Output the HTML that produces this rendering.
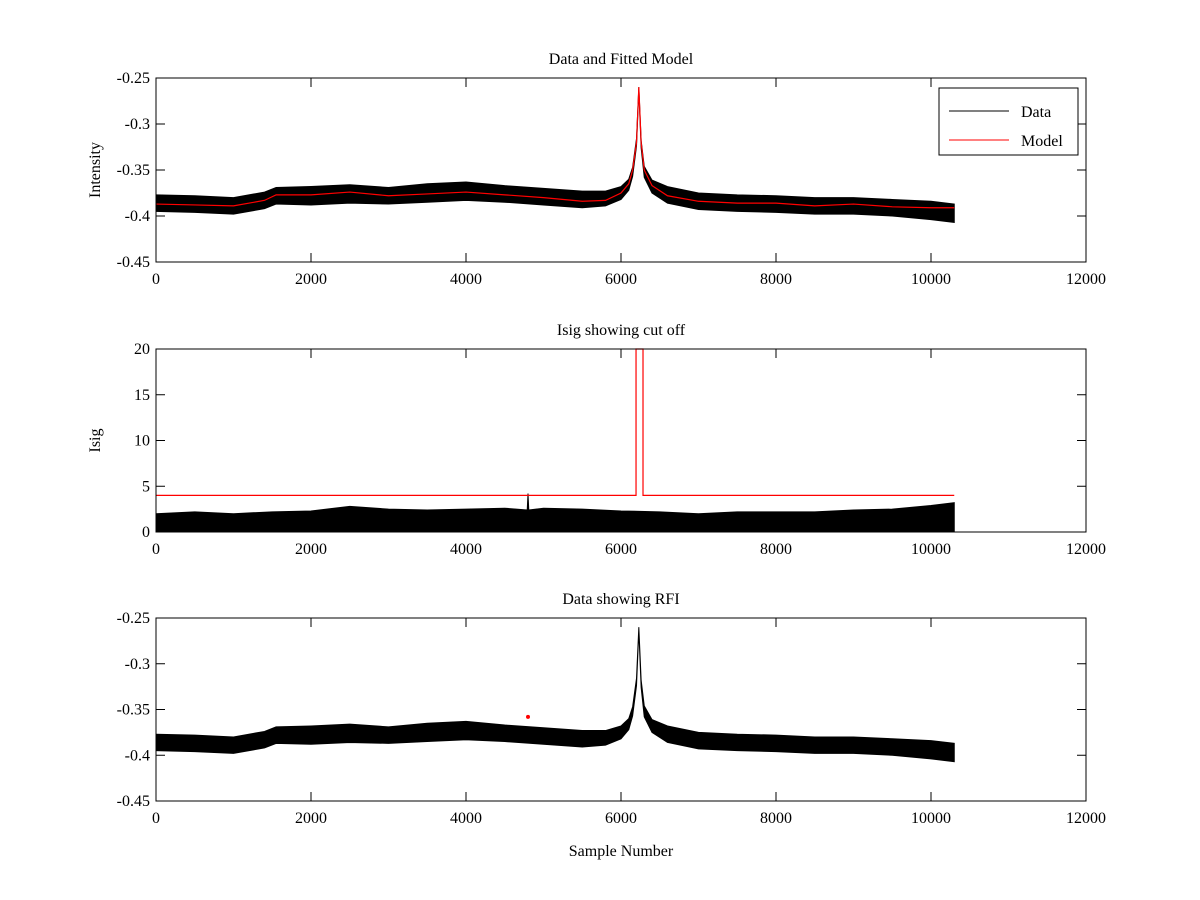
<!DOCTYPE html>
<html><head><meta charset="utf-8"><style>
body{margin:0;background:#fff}
svg{display:block;font-family:"Liberation Serif",serif}
</style></head><body>
<svg id="fig" width="1200" height="900" viewBox="0 0 1200 900"></svg>
<script>
// ---- data ----
const sampleX   = [0,500,1000,1400,1550,2000,2500,3000,3500,4000,4500,5000,5500,5800,6000,6100,6150,6200,6230,6260,6300,6400,6600,7000,7500,8000,8500,9000,9500,10000,10300];
const modelY    = [-0.387,-0.388,-0.389,-0.383,-0.377,-0.377,-0.374,-0.378,-0.376,-0.374,-0.377,-0.380,-0.384,-0.383,-0.375,-0.365,-0.35,-0.32,-0.26,-0.32,-0.35,-0.367,-0.378,-0.384,-0.386,-0.386,-0.389,-0.387,-0.390,-0.391,-0.391];
const dataMid   = [-0.386,-0.387,-0.389,-0.383,-0.378,-0.378,-0.376,-0.378,-0.375,-0.373,-0.376,-0.379,-0.382,-0.381,-0.375,-0.366,-0.352,-0.32,-0.262,-0.322,-0.352,-0.368,-0.377,-0.384,-0.386,-0.387,-0.389,-0.389,-0.391,-0.394,-0.397];
const dataHalf  = [0.009,0.009,0.009,0.009,0.009,0.010,0.010,0.009,0.010,0.010,0.009,0.009,0.009,0.008,0.007,0.006,0.005,0.004,0.002,0.004,0.006,0.007,0.009,0.009,0.009,0.009,0.009,0.009,0.009,0.010,0.010];
const isigX     = [0,500,1000,1500,2000,2500,3000,3500,4000,4500,4790,4800,4810,5000,5500,6000,6500,7000,7500,8000,8500,9000,9500,10000,10300];
const isigUpper = [2.0,2.2,2.0,2.2,2.3,2.8,2.5,2.4,2.5,2.6,2.4,4.2,2.4,2.6,2.5,2.3,2.2,2.0,2.2,2.2,2.2,2.4,2.5,2.9,3.2];
const cutX      = [0,6194,6194,6284,6284,10300];
const cutY      = [4,4,20,20,4,4];
const rfiX      = [4800];
const rfiY      = [-0.358];
const xTicks    = [0,2000,4000,6000,8000,10000,12000];
const yTicksA   = [-0.25,-0.3,-0.35,-0.4,-0.45];
const yTicksB   = [0,5,10,15,20];

const NS="http://www.w3.org/2000/svg";
const svg=document.getElementById('fig');
function el(t,a,p){const e=document.createElementNS(NS,t);for(const k in a)e.setAttribute(k,a[k]);(p||svg).appendChild(e);return e;}
const X0=156,X1=1086;
function sx(v){return X0+(v/12000)*(X1-X0);}

function axes(name,top,bot,ymin,ymax,yt,title,ylabel,xlabel){
  const g=el('g',{});
  
  
  const sy=v=>bot-(v-ymin)/(ymax-ymin)*(bot-top);
  el('rect',{x:X0,y:top,width:X1-X0,height:bot-top,fill:'#fff',stroke:'none'},g);
  return {g,sy,finish:()=>{
    const ax=el('g',{},g);
    
    
    el('rect',{x:X0,y:top,width:X1-X0,height:bot-top,fill:'none',stroke:'#000','stroke-width':1},ax);
    xTicks.forEach(t=>{const x=sx(t);
      el('line',{x1:x,x2:x,y1:bot,y2:bot-9,stroke:'#000'},ax);
      el('line',{x1:x,x2:x,y1:top,y2:top+9,stroke:'#000'},ax);
      const tx=el('text',{x:x,y:bot+22,'text-anchor':'middle','font-size':16},ax);tx.textContent=t;
      
      });
    yt.forEach(t=>{const y=sy(t);
      el('line',{x1:X0,x2:X0+9,y1:y,y2:y,stroke:'#000'},ax);
      el('line',{x1:X1,x2:X1-9,y1:y,y2:y,stroke:'#000'},ax);
      const tx=el('text',{x:X0-6,y:y+5,'text-anchor':'end','font-size':16},ax);tx.textContent=t;
      
      });
    const tt=el('text',{x:(X0+X1)/2,y:top-14,'text-anchor':'middle','font-size':16},ax);tt.textContent=title;
    
    
    if(ylabel){const yl=el('text',{x:0,y:0,'text-anchor':'middle','font-size':16,transform:`translate(${X0-56},${(top+bot)/2}) rotate(-90)`},ax);yl.textContent=ylabel;
      
      }
    if(xlabel){const xl=el('text',{x:(X0+X1)/2,y:bot+55,'text-anchor':'middle','font-size':16},ax);xl.textContent=xlabel;
      
      }
  }};
}
function band(g,xs,lo,hi,sy,name){
  let d='M'+xs.map((x,i)=>sx(x)+','+sy(hi[i])).join('L');
  for(let i=xs.length-1;i>=0;i--)d+='L'+sx(xs[i])+','+sy(lo[i]);
  const p=el('path',{d:d+'Z',fill:'#000',stroke:'#000','stroke-width':1},g);
  
  
}
function line(g,xs,ys,sy,color,name){
  const p=el('polyline',{points:xs.map((x,i)=>sx(x)+','+sy(ys[i])).join(' '),fill:'none',stroke:color,'stroke-width':1.2},g);
  
  
}
const up=dataMid.map((m,i)=>m+dataHalf[i]), lo=dataMid.map((m,i)=>m-dataHalf[i]);

// Panel 1
const A=axes('panel-data-model',78,262,-0.45,-0.25,yTicksA,'Data and Fitted Model','Intensity');
band(A.g,sampleX,lo,up,A.sy,'data-series');
line(A.g,sampleX,modelY,A.sy,'#f00','model-series');
A.finish();
const lg=el('g',{},A.g);


el('rect',{x:939,y:88,width:139,height:67,fill:'#fff',stroke:'#000'},lg);
el('line',{x1:949,x2:1009,y1:111,y2:111,stroke:'#000'},lg);
el('line',{x1:949,x2:1009,y1:140,y2:140,stroke:'#f00'},lg);
const l1=el('text',{x:1021,y:117,'font-size':16},lg);l1.textContent='Data';


const l2=el('text',{x:1021,y:146,'font-size':16},lg);l2.textContent='Model';



// Panel 2
const B=axes('panel-isig',349,532,0,20,yTicksB,'Isig showing cut off','Isig');
band(B.g,isigX,isigX.map(()=>0),isigUpper,B.sy,'isig-series');
line(B.g,cutX,cutY,B.sy,'#f00','cutoff-line');
B.finish();

// Panel 3
const C=axes('panel-rfi',618,801,-0.45,-0.25,yTicksA,'Data showing RFI',null,'Sample Number');
band(C.g,sampleX,lo,up,C.sy,'data-series');
rfiX.forEach((x,i)=>{const c=el('circle',{cx:sx(x),cy:C.sy(rfiY[i]),r:2,fill:'#f00'},C.g);
  
  });
C.finish();
</script>
</body></html>
